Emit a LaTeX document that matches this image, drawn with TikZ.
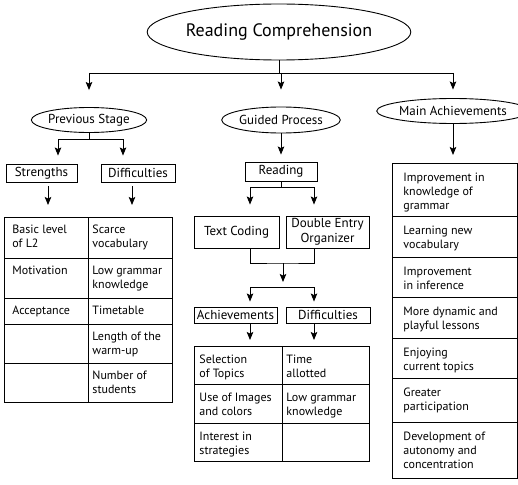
\documentclass[tikz,border=0pt]{standalone}
\usepackage{fontspec}
\setmainfont{PT Sans}
\usetikzlibrary{arrows.meta,shapes}

\newcommand{\celltop}{16pt}
\newcommand{\celltext}[4][8pt]{\parbox[c][#3][t]{#2}{\raggedright\leftskip=#1\relax\rule{0pt}{\celltop}#4\par}}

\tikzset{
  oval/.style={draw,ellipse,inner sep=0pt,font=\fontsize{13}{15}\selectfont},
  lbl/.style={draw,inner sep=0pt,align=center,font=\fontsize{13}{15}\selectfont},
  cell/.style={draw,anchor=north west,inner sep=0pt,font=\fontsize{12}{14}\selectfont},
  arr/.style={-{Stealth[length=8pt,width=6.5pt,inset=1.5pt]}}
}

\begin{document}
\begin{tikzpicture}[x=1pt,y=-1pt,line width=0.9pt]
\useasboundingbox (0,0) rectangle (518,484);

\node[oval,minimum width=212pt,minimum height=56pt,font=\fontsize{18}{20}\selectfont] (title) at (279,32) {Reading Comprehension};
\node[oval,minimum width=97pt,minimum height=25pt] (prev) at (89,120) {Previous Stage};
\node[oval,minimum width=98pt,minimum height=26pt] (guided) at (281,120) {Guided Process};
\node[oval,minimum width=121pt,minimum height=25pt] (mainach) at (453,111) {Main Achievements};

% first level
\coordinate (tj) at (279,73);
\draw (title.south) -- (tj);
\draw (tj -| prev) -- (tj -| mainach);
\draw[arr,shorten >=17pt] (tj -| prev) -- (prev.north);
\draw[arr,shorten >=17pt] (tj -| guided) -- (guided.north);
\draw[arr,shorten >=8.5pt] (tj -| mainach) -- (mainach.north);

% previous stage
\node[lbl,minimum width=71pt,minimum height=18pt] (str) at (41.5,173) {Strengths};
\node[lbl,minimum width=74pt,minimum height=18pt] (dif) at (138,173) {Difficulties};
\coordinate (pj) at (89,139);
\coordinate (pl) at (58,139);
\coordinate (pr) at (123,139);
\draw (prev.south) -- (pj);
\draw (pl) -- (pr);
\draw[arr,shorten >=8pt] (pl) -- (pl |- str.north);
\draw[arr,shorten >=8pt] (pr) -- (pr |- dif.north);

\node[cell] (ls1) at (4,217) {\celltext{84pt}{41pt}{Basic level\\of L2}};
\node[cell] (ls2) at (4,258) {\celltext{84pt}{40pt}{Motivation}};
\node[cell] (ls3) at (4,298) {\celltext{84pt}{26pt}{Acceptance}};
\node[cell] (ls4) at (4,324) {\celltext{84pt}{39pt}{}};
\node[cell] (ls5) at (4,363) {\celltext{84pt}{39pt}{}};
\node[cell] (ld1) at (88,217) {\celltext[4pt]{84pt}{41pt}{Scarce\\vocabulary}};
\node[cell] (ld2) at (88,258) {\celltext[4pt]{84pt}{40pt}{Low grammar\\knowledge}};
\node[cell] (ld3) at (88,298) {\celltext[4pt]{84pt}{26pt}{Timetable}};
\node[cell] (ld4) at (88,324) {\celltext[4pt]{84pt}{39pt}{Length of the\\warm-up}};
\node[cell] (ld5) at (88,363) {\celltext[4pt]{84pt}{39pt}{Number of\\students}};
\draw[arr,shorten <=4pt,shorten >=12pt] ([xshift=6.5pt]str.south) -- ([xshift=6.5pt]str.south |- ls1.north);
\draw[arr,shorten <=4pt,shorten >=12pt] ([xshift=-6pt]dif.south) -- ([xshift=-6pt]dif.south |- ld1.north);

% guided process
\node[lbl,minimum width=72pt,minimum height=19pt] (reading) at (281,171.5) {Reading};
\node[lbl,minimum width=85pt,minimum height=32pt] (tcode) at (236.5,232) {Text Coding};
\node[lbl,minimum width=83pt,minimum height=32pt] (deo) at (327.5,232) {Double Entry\\Organizer};
\draw[arr,shorten >=7pt] (guided.south) -- (reading.north);
\coordinate (rj) at (281,187);
\coordinate (rl) at (250,187);
\coordinate (rr) at (314,187);
\draw (reading.south) -- (rj);
\draw (rl) -- (rr);
\draw[arr,shorten >=11pt] (rl) -- (rl |- tcode.north);
\draw[arr,shorten >=11pt] (rr) -- (rr |- deo.north);

\coordinate (cj) at (283,263);
\coordinate (sj) at (283,287);
\draw (rl |- tcode.south) |- (cj) -| (rr |- deo.south);
\draw[arr,shorten >=5pt] (cj) -- (sj);
\draw (rl |- sj) -- (rr |- sj);

\node[lbl,minimum width=83pt,minimum height=16pt] (ach) at (235.5,315) {Achievements};
\node[lbl,minimum width=84pt,minimum height=16pt] (dif2) at (328,315) {Difficulties};
\draw[arr,shorten >=5pt] (rl |- sj) -- (rl |- ach.north);
\draw[arr,shorten >=5pt] (rr |- sj) -- (rr |- dif2.north);

\renewcommand{\celltop}{17pt}
\node[cell] (ma1) at (194,346) {\celltext[5pt]{88pt}{38pt}{Selection\\of Topics}};
\node[cell] (ma2) at (194,384) {\celltext[5pt]{88pt}{39pt}{Use of Images\\and colors}};
\node[cell] (ma3) at (194,423) {\celltext[5pt]{88pt}{38pt}{Interest in\\strategies}};
\node[cell] (md1) at (282,346) {\celltext[4pt]{87pt}{38pt}{Time\\allotted}};
\node[cell] (md2) at (282,384) {\celltext[4pt]{87pt}{39pt}{Low grammar\\knowledge}};
\node[cell] (md3) at (282,423) {\celltext[4pt]{87pt}{38pt}{}};
\draw[arr,shorten >=6pt] (rl |- ach.south) -- (rl |- ma1.north);
\draw[arr,shorten >=6pt] (rr |- dif2.south) -- (rr |- md1.north);

% main achievements
\renewcommand{\celltop}{18pt}
\node[cell] (ra1) at (392,163) {\celltext[11pt]{125pt}{53pt}{Improvement in\\knowledge of\\grammar}};
\node[cell] (ra2) at (392,216) {\celltext[11pt]{125pt}{41pt}{Learning new\\vocabulary}};
\node[cell] (ra3) at (392,257) {\celltext[11pt]{125pt}{40pt}{Improvement\\in inference}};
\node[cell] (ra4) at (392,297) {\celltext[11pt]{125pt}{41pt}{More dynamic and\\playful lessons}};
\node[cell] (ra5) at (392,338) {\celltext[11pt]{125pt}{40pt}{Enjoying\\current topics}};
\node[cell] (ra6) at (392,378) {\celltext[11pt]{125pt}{44pt}{Greater\\participation}};
\node[cell] (ra7) at (392,422) {\celltext[11pt]{125pt}{56pt}{Development of\\autonomy and\\concentration}};
\draw[arr,shorten >=8pt] (mainach.south) -- (mainach.south |- ra1.north);
\end{tikzpicture}
\end{document}
